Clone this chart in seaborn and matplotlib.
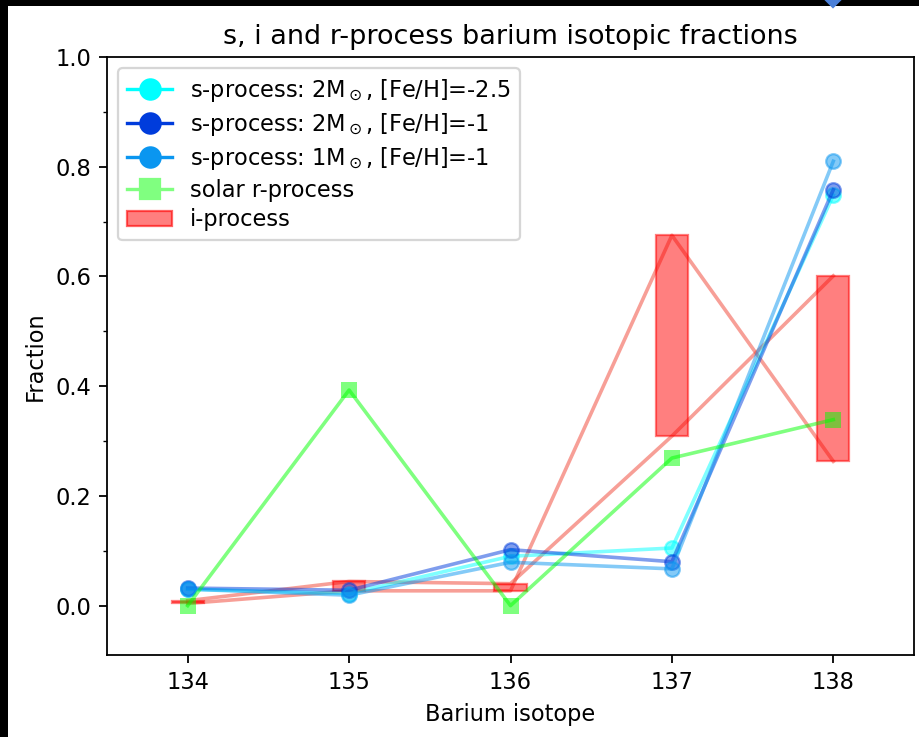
import matplotlib
matplotlib.use("Agg")
import matplotlib.pyplot as plt
from matplotlib.lines import Line2D
from matplotlib.patches import Patch, Rectangle
from matplotlib.ticker import MultipleLocator
import numpy as np
import seaborn as sns

# Barium isotopes and their fractional abundances
isotopes = [134, 135, 136, 137, 138]
s_2m_feh_m25 = [0.030, 0.022, 0.090, 0.105, 0.748]
s_2m_feh_m1 = [0.032, 0.028, 0.102, 0.080, 0.758]
s_1m_feh_m1 = [0.030, 0.019, 0.079, 0.067, 0.810]
solar_r = [0.000, 0.393, 0.000, 0.269, 0.339]
i_model_a = [0.009, 0.044, 0.040, 0.309, 0.601]
i_model_b = [0.004, 0.027, 0.027, 0.675, 0.263]

labels = [
    r"s-process: 2M$_\odot$, [Fe/H]=-2.5",
    r"s-process: 2M$_\odot$, [Fe/H]=-1",
    r"s-process: 1M$_\odot$, [Fe/H]=-1",
    "solar r-process",
    "i-process",
]
s_colors = ["#00ffff", "#003cdc", "#0a96f0"]

DPI = 162
fig = plt.figure(figsize=(919 / DPI, 737 / DPI), dpi=DPI)
fig.patch.set_facecolor("white")
# dark frame strips along the left and top edges
fig.add_artist(Rectangle((0, 0), 8 / 919, 1, transform=fig.transFigure,
                         facecolor="black", edgecolor="none", zorder=-1))
fig.add_artist(Rectangle((0, 1 - 6 / 737), 1, 6 / 737, transform=fig.transFigure,
                         facecolor="black", edgecolor="none", zorder=-1))

ax = fig.add_axes([107 / 919, 82 / 737, 807 / 919, 598 / 737])

# i-process: two model tracks plus the range spanned at each isotope
for track in (i_model_a, i_model_b):
    sns.lineplot(x=isotopes, y=track, ax=ax, color="#f04030", alpha=0.5,
                 linewidth=1.6, legend=False, zorder=2)
lo = np.minimum(i_model_a, i_model_b)
hi = np.maximum(i_model_a, i_model_b)
ax.bar(isotopes, hi - lo, bottom=lo, width=0.2, facecolor=(1, 0, 0, 0.5),
       edgecolor=(1, 0, 0, 0.5), linewidth=1, zorder=3)

# s-process tracks
for vals, col in zip([s_2m_feh_m25, s_2m_feh_m1, s_1m_feh_m1], s_colors):
    sns.lineplot(x=isotopes, y=vals, ax=ax, color=col, alpha=0.5, linewidth=1.6,
                 marker="o", markersize=6.5, markeredgecolor=col,
                 markeredgewidth=1, legend=False, zorder=4)

# solar r-process
sns.lineplot(x=isotopes, y=solar_r, ax=ax, color="lime", alpha=0.5, linewidth=1.6,
             marker="s", markersize=7, markeredgecolor="lime",
             markeredgewidth=0, legend=False, zorder=5)

ax.plot([138], [1.11], marker="D", markersize=6, color="#4a7fd8",
        clip_on=False, zorder=6)

ax.set_xlim(133.5, 138.5)
ax.set_ylim(-0.09, 1.0)
ax.set_xticks(isotopes)
ax.yaxis.set_major_locator(MultipleLocator(0.2))
ax.yaxis.set_minor_locator(MultipleLocator(0.1))
ax.set_xlabel("Barium isotope", fontsize=10)
ax.set_ylabel("Fraction", fontsize=10)
ax.set_title("s, i and r-process barium isotopic fractions", fontsize=12)
ax.tick_params(labelsize=10)

handles = [
    Line2D([], [], color=s_colors[0], marker="o", markersize=9, linewidth=1.5),
    Line2D([], [], color=s_colors[1], marker="o", markersize=9, linewidth=1.5),
    Line2D([], [], color=s_colors[2], marker="o", markersize=9, linewidth=1.5),
    Line2D([], [], color="#80ff80", marker="s", markersize=9, linewidth=1.5),
    Patch(facecolor=(1, 0, 0, 0.5), edgecolor=(1, 0, 0, 0.6), linewidth=1),
]
ax.legend(handles, labels, loc="upper left", fontsize=10, frameon=True,
          labelspacing=0.3)

fig.savefig("out.png", dpi=DPI)
